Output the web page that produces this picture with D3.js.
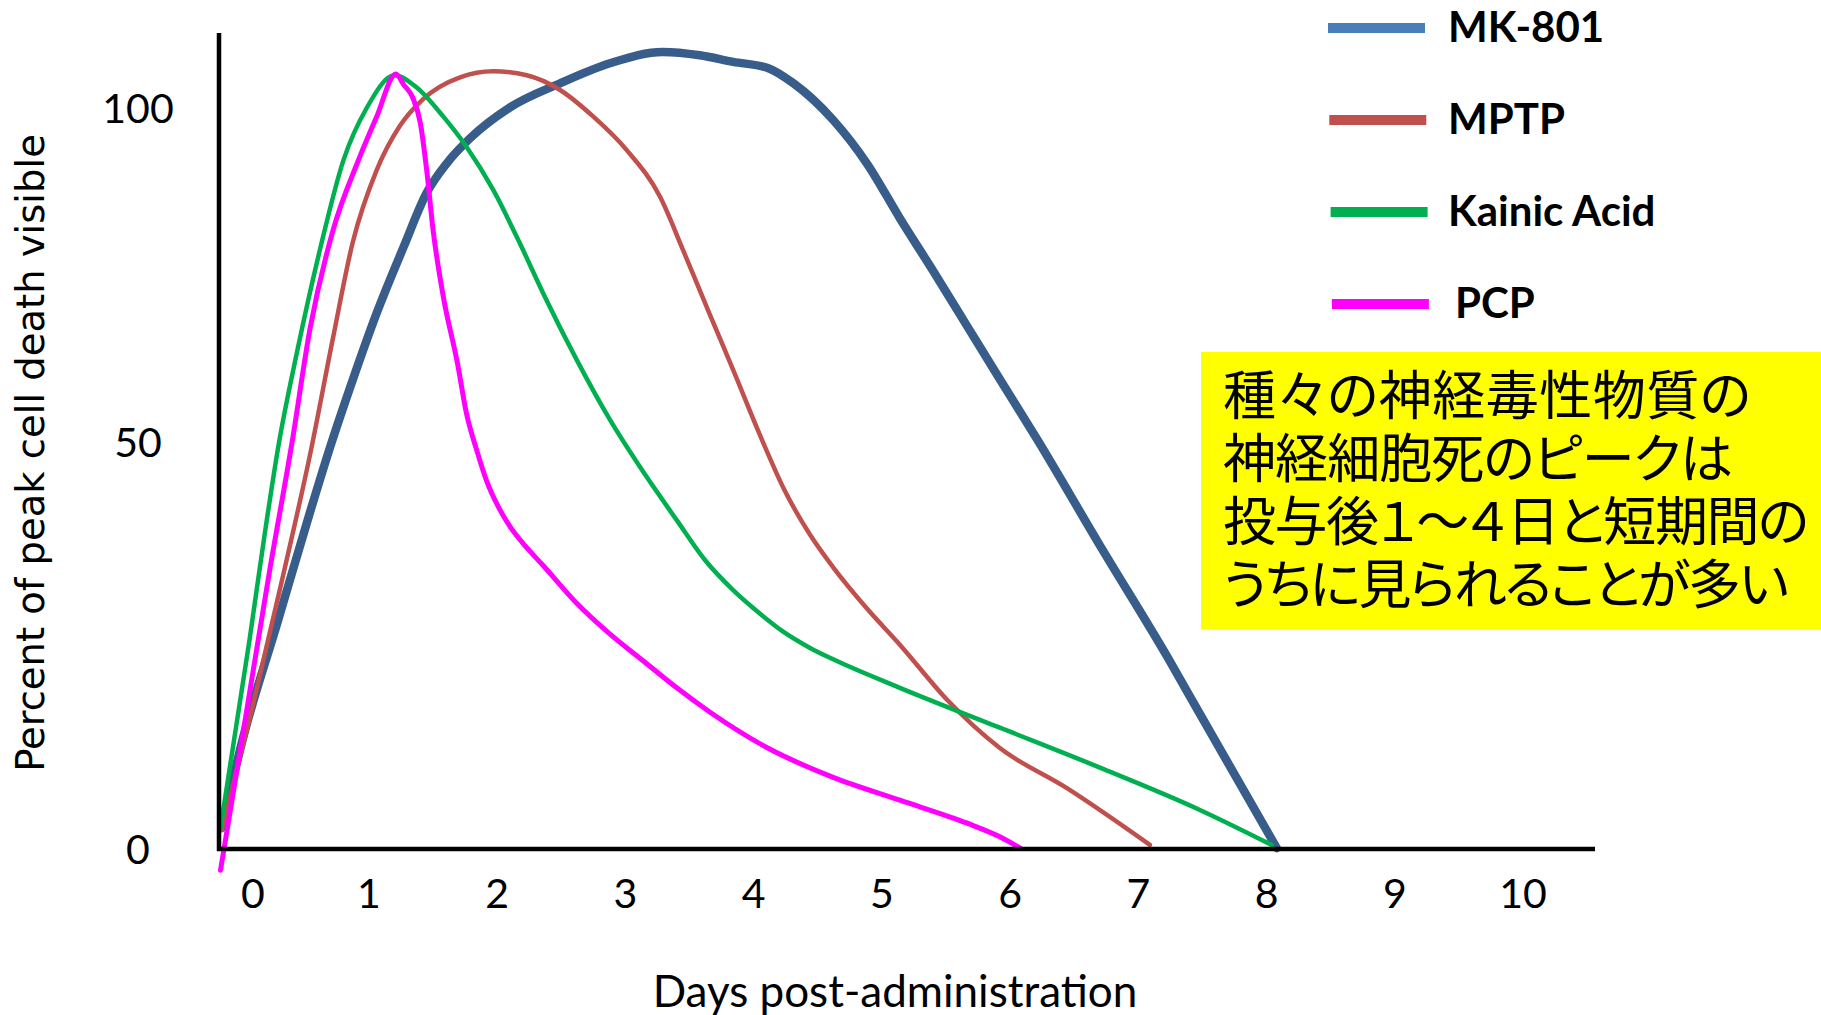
<!DOCTYPE html>
<html>
<head>
<meta charset="utf-8">
<script src="https://cdn.jsdelivr.net/npm/d3@7"></script>
<style>
  body { margin: 0; background: #fff; }
  svg { display: block; }
</style>
</head>
<body>
<div id="chart"></div>
<script>
const width = 1821, height = 1015;

// tick labels
const dayTicks = [0, 1, 2, 3, 4, 5, 6, 7, 8, 9, 10];
const pctTicks = [0, 50, 100];

// series
const seriesNames = ["MK-801", "MPTP", "Kainic Acid", "PCP"];
const lineColors = ["#385d8a", "#c0504d", "#00b050", "#ff00ff"];
const legendColors = ["#4a7ebb", "#c0504d", "#00b050", "#ff00ff"];
const lineWidths = [8.5, 4.5, 4.5, 5];

const mk801Days = [-0.27, -0.09, 0.21, 0.49, 0.67, 0.86, 1.06, 1.27, 1.45, 1.61, 1.79, 2.10, 2.49, 2.88, 3.29, 3.58, 3.84, 4.11, 4.31, 4.62, 4.89, 5.14, 5.40, 5.66, 5.92, 6.22, 6.70, 7.23, 7.48, 8.08];
const mk801Values = [2.6, 13.4, 27.8, 41.3, 49.6, 59.3, 69.3, 79.2, 87.3, 91.8, 95.5, 100.1, 103.7, 106.7, 108.4, 107.9, 106.9, 106.0, 103.7, 98.2, 91.5, 83.5, 75.6, 67.5, 59.4, 50.1, 37.3, 23.5, 16.6, 0.1];

const mptpDays = [-0.27, -0.01, 0.24, 0.50, 0.69, 0.86, 1.06, 1.24, 1.42, 1.71, 1.97, 2.23, 2.49, 2.75, 3.01, 3.27, 3.45, 3.66, 3.84, 4.05, 4.24, 4.44, 4.62, 4.88, 5.14, 5.51, 5.92, 6.44, 7.09];
const mptpValues = [2.3, 17.1, 32.4, 49.0, 65.6, 79.9, 90.7, 97.3, 101.3, 104.6, 105.5, 104.9, 102.7, 98.7, 93.7, 86.7, 78.7, 69.0, 60.8, 51.0, 44.1, 38.6, 34.6, 29.6, 25.1, 18.3, 12.4, 7.5, 0.5];

const kainicDays = [-0.28, -0.03, 0.10, 0.22, 0.38, 0.58, 0.78, 0.98, 1.20, 1.37, 1.58, 1.76, 1.97, 2.18, 2.36, 2.62, 2.88, 3.14, 3.40, 3.62, 3.84, 4.05, 4.23, 4.44, 4.62, 5.14, 5.92, 6.70, 7.48, 8.04];
const kainicValues = [2.6, 25.7, 38.6, 49.6, 63.5, 79.0, 92.2, 100.0, 104.9, 103.1, 98.7, 94.2, 87.7, 79.6, 72.2, 62.3, 53.3, 46.3, 40.4, 35.5, 31.8, 28.9, 26.7, 24.7, 23.3, 19.8, 14.9, 10.0, 4.8, 0.5];

const pcpDays = [-0.28, -0.19, -0.05, 0.14, 0.34, 0.49, 0.69, 0.90, 1.06, 1.21, 1.27, 1.34, 1.40, 1.45, 1.50, 1.58, 1.69, 1.76, 1.84, 1.92, 2.01, 2.10, 2.22, 2.36, 2.62, 2.88, 3.14, 3.40, 3.66, 4.11, 4.62, 5.14, 5.66, 5.92, 6.08];
const pcpValues = [-2.6, 5.2, 17.4, 33.9, 50.3, 66.8, 81.7, 91.8, 98.7, 105.1, 103.5, 101.6, 97.8, 90.7, 81.7, 71.7, 61.8, 54.3, 49.0, 45.1, 42.0, 39.6, 37.2, 34.8, 30.2, 26.4, 23.1, 19.8, 16.8, 12.4, 8.8, 6.0, 3.2, 1.5, 0.1];

const noteLines = [
  "種々の神経毒性物質の",
  "神経細胞死のピークは",
  "投与後１～４日と短期間の",
  "うちに見られることが多い"
];
const noteWidths = [528, 510, 586, 566];

const series = [
  { days: mk801Days, values: mk801Values },
  { days: mptpDays, values: mptpValues },
  { days: kainicDays, values: kainicValues },
  { days: pcpDays, values: pcpValues }
].map((s, i) => ({
  name: seriesNames[i],
  color: lineColors[i],
  width: lineWidths[i],
  points: s.days.map((d, j) => ({ day: d, value: s.values[j] }))
}));

// the original's labels are hand placed, so both scales are piecewise
const x = d3.scaleLinear().domain([0, 1, 10]).range([253, 369, 1523]);
const y = d3.scaleLinear().domain([0, 50, 100]).range([849, 442, 108]);

const axisLeftX = 219, axisTop = 33, axisRight = 1595;

const svg = d3.select("#chart")
  .append("svg")
    .attr("width", width)
    .attr("height", height)
    .style("background", "#fff");

// note box
svg.append("rect")
    .attr("x", 1201)
    .attr("y", 352)
    .attr("width", width - 1201)
    .attr("height", 277)
    .attr("fill", "#ffff00");

svg.append("g")
  .selectAll("text")
  .data(noteLines)
  .enter().append("text")
    .attr("x", 1223)
    .attr("y", (d, i) => 415 + i * 63)
    .attr("textLength", (d, i) => noteWidths[i])
    .attr("lengthAdjust", "spacing")
    .style("font-family", "'Noto Sans CJK JP', sans-serif")
    .style("font-size", "53px")
    .style("font-feature-settings", "'palt'")
    .style("fill", "#000")
    .text(d => d);

// curves
const line = d3.line()
    .x(d => x(d.day))
    .y(d => y(d.value))
    .curve(d3.curveMonotoneX);

svg.append("g")
  .selectAll("path")
  .data(series)
  .enter().append("path")
    .attr("d", d => line(d.points))
    .attr("fill", "none")
    .attr("stroke", d => d.color)
    .attr("stroke-width", d => d.width)
    .attr("stroke-linecap", "round")
    .attr("stroke-linejoin", "round");

// axes
svg.append("line")
    .attr("x1", axisLeftX).attr("x2", axisLeftX)
    .attr("y1", axisTop).attr("y2", y(0) + 2)
    .attr("stroke", "#000")
    .attr("stroke-width", 4.5);

svg.append("line")
    .attr("x1", axisLeftX - 2).attr("x2", axisRight)
    .attr("y1", y(0)).attr("y2", y(0))
    .attr("stroke", "#000")
    .attr("stroke-width", 4.5);

const tickFont = "Lato, 'Open Sans', sans-serif";

svg.append("g")
  .selectAll("text")
  .data(dayTicks)
  .enter().append("text")
    .attr("x", d => x(d))
    .attr("y", 908)
    .attr("text-anchor", "middle")
    .style("font-family", tickFont)
    .style("font-size", "41px")
    .text(d => d);

svg.append("g")
  .selectAll("text")
  .data(pctTicks)
  .enter().append("text")
    .attr("x", 138)
    .attr("y", d => y(d) + 15)
    .attr("text-anchor", "middle")
    .style("font-family", tickFont)
    .style("font-size", "41px")
    .text(d => d);

// axis titles
svg.append("text")
    .attr("x", 895)
    .attr("y", 1007)
    .attr("text-anchor", "middle")
    .style("font-family", tickFont)
    .style("font-size", "44px")
    .text("Days post-administration");

svg.append("text")
    .attr("transform", "translate(44,453) rotate(-90)")
    .attr("text-anchor", "middle")
    .style("font-family", "'DejaVu Sans', Verdana, sans-serif")
    .style("font-size", "38.5px")
    .text("Percent of peak cell death visible");

// legend
const legend = svg.append("g")
  .selectAll("g")
  .data(seriesNames)
  .enter().append("g")
    .attr("transform", (d, i) => `translate(1328,${28 + i * 92})`);

legend.append("line")
    .attr("x1", (d, i) => i * 1.3)
    .attr("x2", (d, i) => 97 + i * 1.3)
    .attr("stroke", (d, i) => legendColors[i])
    .attr("stroke-width", 10);

legend.append("text")
    .attr("x", (d, i) => i == 3 ? 127 : 120)
    .attr("y", 14)
    .style("font-family", tickFont)
    .style("font-weight", "bold")
    .style("font-size", "42px")
    .text(d => d);
</script>
</body>
</html>
